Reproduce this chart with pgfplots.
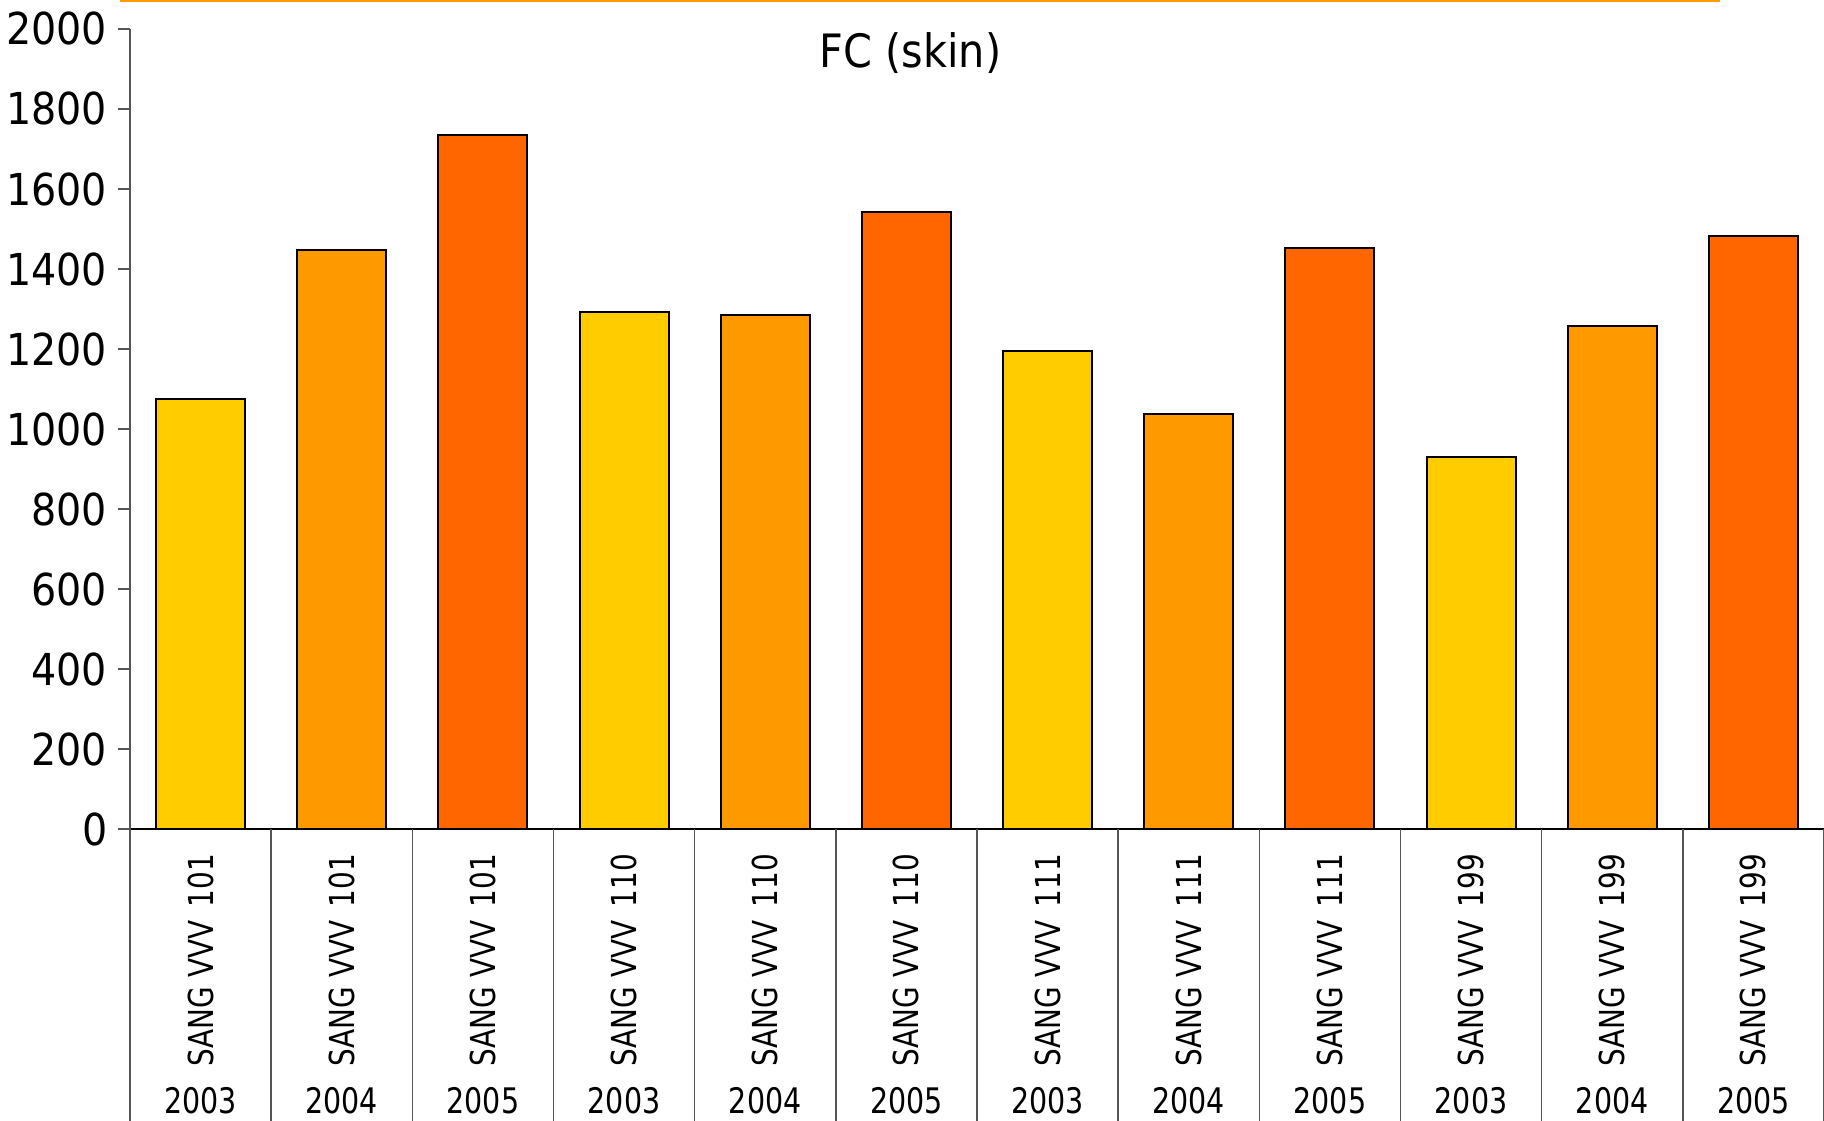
\documentclass[border=0pt]{standalone}
\usepackage{pgfplots}
\pgfplotsset{compat=1.18}
\usepackage{fontspec}
\setmainfont{DejaVu Sans Condensed}
\newfontfamily\narrowfont[FakeStretch=0.9]{DejaVu Sans Condensed}
\usetikzlibrary{calc}
\definecolor{cYel}{HTML}{FFCC00}
\definecolor{cOra}{HTML}{FF9900}
\definecolor{cRed}{HTML}{FF6600}
\definecolor{axisgray}{HTML}{555555}

\begin{document}
\begin{tikzpicture}
\begin{axis}[
  name=ax,
  width=423.5pt, height=200pt, scale only axis,
  xmin=-0.5, xmax=11.5, ymin=0, ymax=2000,
  axis x line*=bottom, axis y line*=left,
  x axis line style={black, line width=0.4pt},
  y axis line style={axisgray, line width=0.4pt},
  ytick={0,200,...,2000},
  yticklabel style={font=\fontsize{11}{13}\selectfont, inner sep=0pt, xshift=-2.5pt},
  /pgf/number format/1000 sep={},
  /pgf/number format/assume math mode=true,
  ytick style={axisgray, line width=0.4pt},
  tick align=outside,
  major tick length=3pt,
  xtick={0,...,11},
  xtick style={draw=none},
  xticklabels={SANG VVV\hspace{0.4em}101,SANG VVV\hspace{0.4em}101,SANG VVV\hspace{0.4em}101,
               SANG VVV\hspace{0.4em}110,SANG VVV\hspace{0.4em}110,SANG VVV\hspace{0.4em}110,
               SANG VVV\hspace{0.4em}111,SANG VVV\hspace{0.4em}111,SANG VVV\hspace{0.4em}111,
               SANG VVV\hspace{0.4em}199,SANG VVV\hspace{0.4em}199,SANG VVV\hspace{0.4em}199},
  xticklabel style={rotate=90, anchor=east, inner sep=0pt,
                    font=\narrowfont\fontsize{8.6}{10}\selectfont},
  xticklabel shift=3pt,
  ybar, bar width=22.25pt,
  clip=false,
]
% 2003 samples
\addplot[bar shift=0pt, fill=cYel, draw=black, line width=0.5pt]
  coordinates {(0,1075) (3,1293) (6,1194) (9,930)};
% 2004 samples
\addplot[bar shift=0pt, fill=cOra, draw=black, line width=0.5pt]
  coordinates {(1,1447) (4,1284) (7,1037) (10,1258)};
% 2005 samples
\addplot[bar shift=0pt, fill=cRed, draw=black, line width=0.5pt]
  coordinates {(2,1735) (5,1543) (8,1453) (11,1483)};

\node[font=\fontsize{11.5}{13}\selectfont] at (axis cs:5.03,1940) {FC (skin)};
\draw[cOra, line width=0.6pt] (axis cs:-0.57,2070) -- (axis cs:10.76,2070);
\end{axis}

% separators between the category cells below the axis
\foreach \k in {0,...,12}
  \draw[axisgray, line width=0.4pt]
    ($(ax.south west)!{\k/12}!(ax.south east)$) -- ++(0,-73pt);

% sampling year under each group label
\foreach \yr [count=\k from 0] in {2003,2004,2005,2003,2004,2005,2003,2004,2005,2003,2004,2005}
  \node[anchor=north, inner sep=0pt, font=\narrowfont\fontsize{8.8}{10}\selectfont]
    at ($(ax.south west)!{(\k+0.5)/12}!(ax.south east)+(0,-64.5pt)$) {\yr};

\pgfresetboundingbox
\path[use as bounding box] ($(ax.south west)+(-32.5pt,-73pt)$) rectangle ($(ax.north east)+(0,7.25pt)$);
\end{tikzpicture}
\end{document}
